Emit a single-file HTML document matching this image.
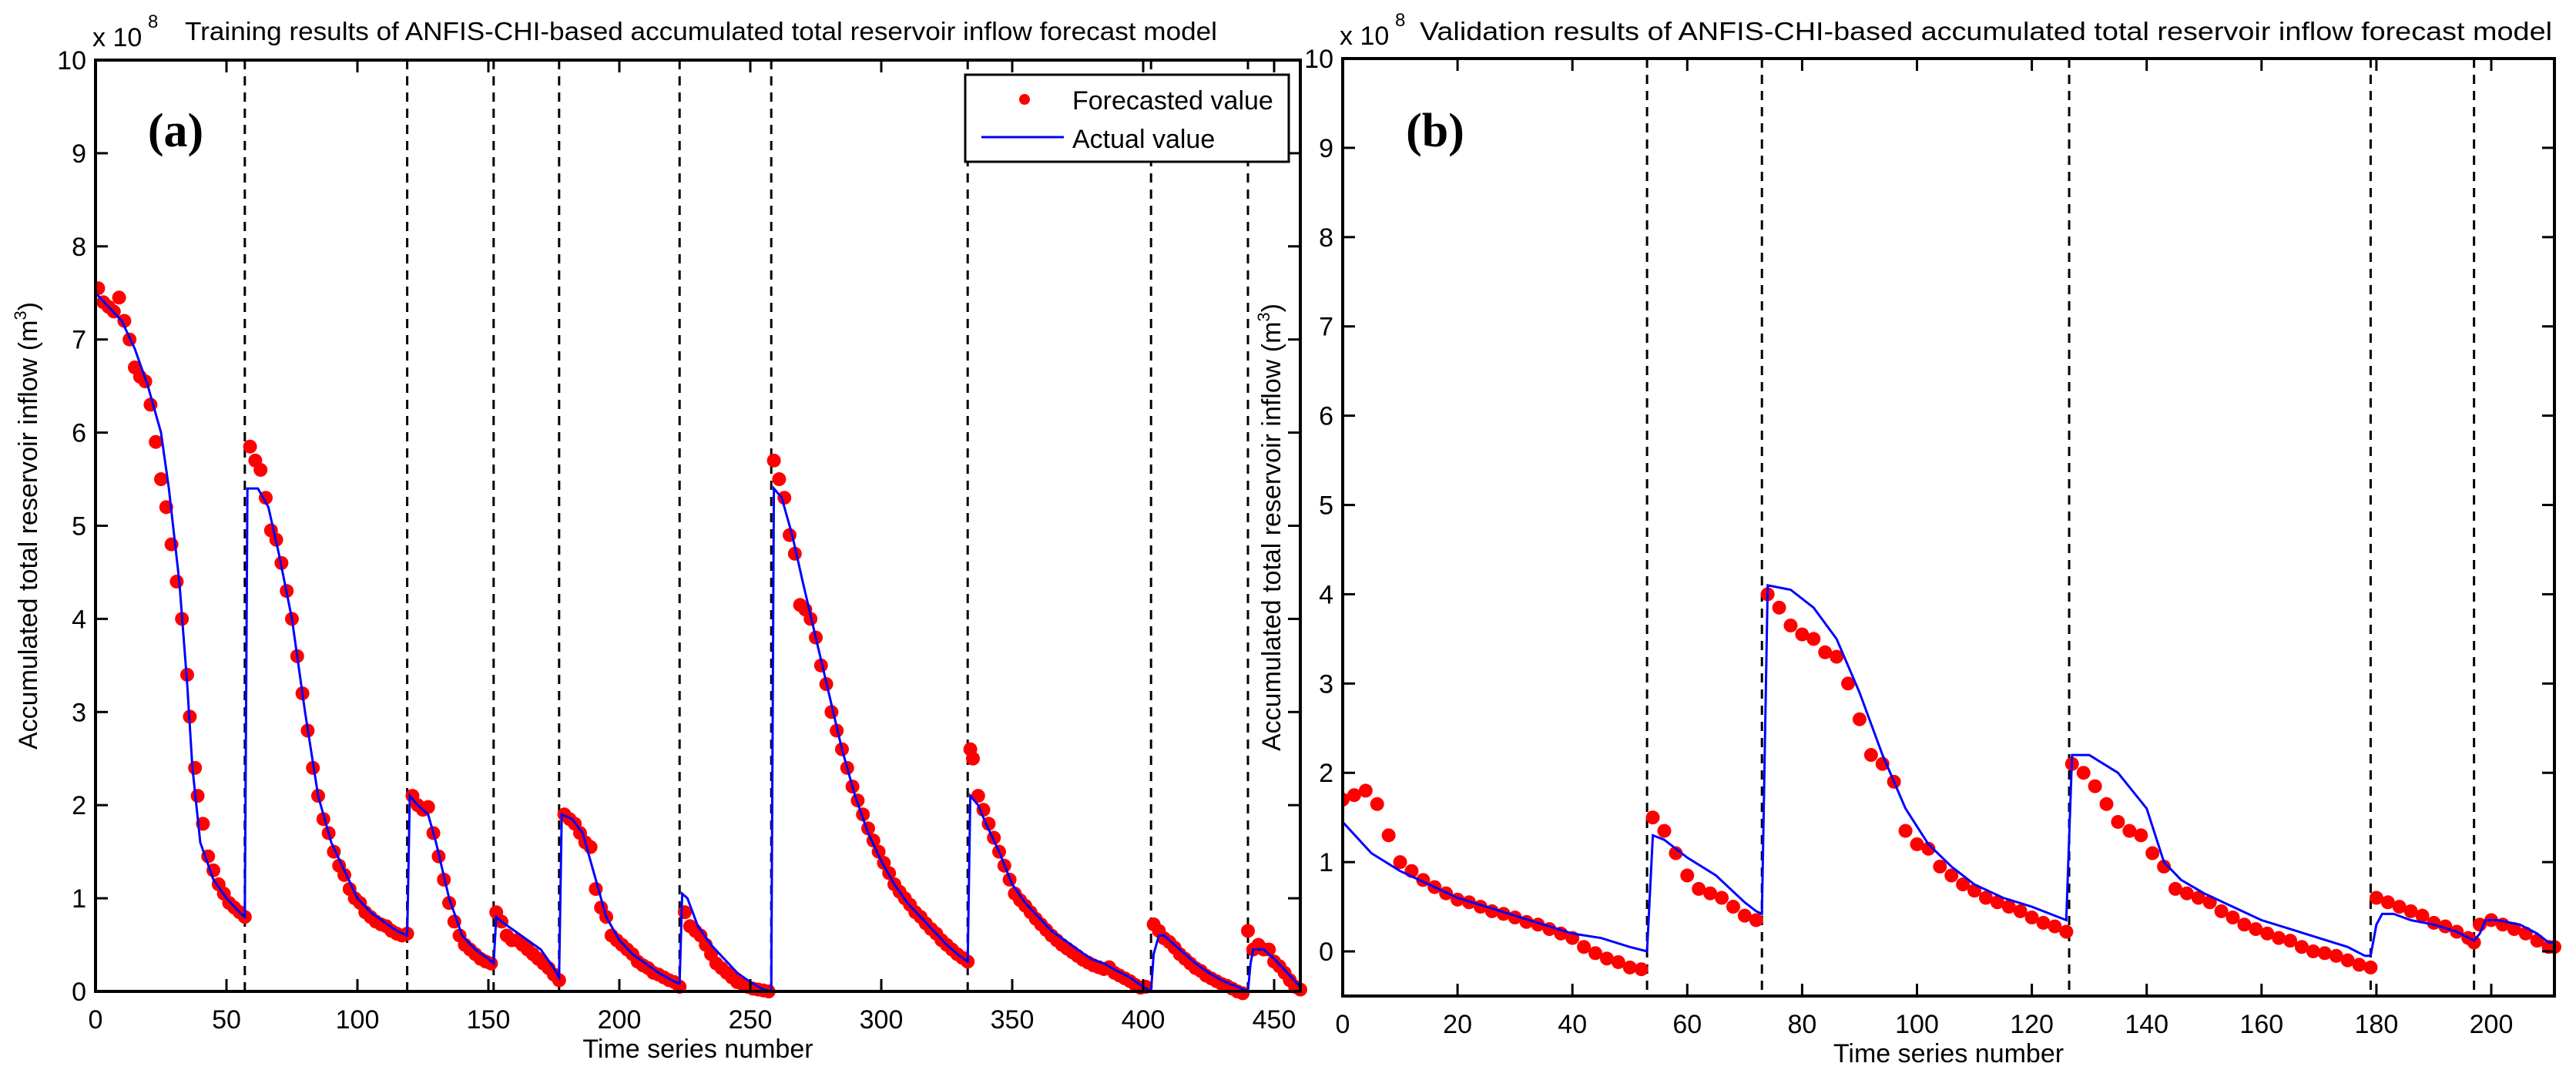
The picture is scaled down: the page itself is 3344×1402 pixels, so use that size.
<!DOCTYPE html>
<html><head><meta charset="utf-8"><style>
html,body{margin:0;padding:0;background:#fff}
svg{display:block;font-family:"Liberation Sans",sans-serif}
</style></head><body>
<svg id="chart" width="3344" height="1402" viewBox="0 0 3344 1402" xmlns="http://www.w3.org/2000/svg"></svg>
<script>
// ---- Panel (a) data ----
const aBreaks = [57,119,152,177,223,258,333,403,440];
const aXTicks = [0,50,100,150,200,250,300,350,400,450];
const aYTicks = [0,1,2,3,4,5,6,7,8,9,10];
const aActualX = [0,5,10,15,20,25,28,32,35,37,40,45,50,55,57, 58,62,66,70,75,80,85,90,95,100,105,110,115,119, 120,123,127,130,135,140,145,150,152, 153,155,160,165,170,175,177, 178,182,186,190,195,200,205,210,215,220,223, 224,226,230,235,240,245,250,255,258, 259,262,266,270,275,280,285,290,295,300,305,310,315,320,325,330,333, 334,337,340,345,350,355,360,365,370,375,380,385,390,395,400,403, 404,406,408,412,416,420,425,430,435,440, 441,442,446,450,455,460];
const aActualY = [7.5,7.35,7.2,6.9,6.5,6.0,5.4,4.4,3.3,2.4,1.6,1.2,1.0,0.85,0.8, 5.4,5.4,5.2,4.7,4.0,3.0,2.1,1.6,1.3,1.0,0.85,0.75,0.65,0.6, 2.1,2.0,1.9,1.6,1.0,0.6,0.45,0.35,0.3, 0.8,0.75,0.65,0.55,0.45,0.25,0.15, 1.9,1.85,1.7,1.3,0.8,0.55,0.4,0.3,0.2,0.12,0.08, 1.05,1.0,0.7,0.5,0.35,0.2,0.1,0.02,0.0, 5.4,5.3,4.9,4.4,3.8,3.2,2.6,2.1,1.7,1.4,1.15,0.95,0.8,0.65,0.5,0.38,0.32, 2.1,2.0,1.8,1.5,1.15,0.95,0.8,0.65,0.55,0.45,0.35,0.3,0.22,0.15,0.05,0.0, 0.4,0.6,0.6,0.5,0.4,0.3,0.2,0.12,0.06,0.0, 0.3,0.45,0.45,0.35,0.2,0.05];
const aForecastX = [1,3,5,7,9,11,13,15,17,19,21,23,25,27,29,31,33,35,36,38,39,41,43,45,47,49,51,53,55,57, 59,61,63,65,67,69,71,73,75,77,79,81,83,85,87,89,91,93,95,97,99,101,103,105,107,109,111,113,115,117,119, 121,123,125,127,129,131,133,135,137,139,141,143,145,147,149,151, 153,155,157,159,161,163,165,167,169,171,173,175,177, 179,181,183,185,187,189,191,193,195,197,199,201,203,205,207,209,211,213,215,217,219,221,223, 225,227,229,231,233,235,237,239,241,243,245,247,249,251,253,255,257, 259,261,263,265,267,269,271,273,275,277,279,281,283,285,287,289,291,293,295,297,299,301,303,305,307,309,311,313,315,317,319,321,323,325,327,329,331,333, 334,335,337,339,341,343,345,347,349,351,353,355,357,359,361,363,365,367,369,371,373,375,377,379,381,383,385,387,389,391,393,395,397,399,401, 404,406,408,410,412,414,416,418,420,422,424,426,428,430,432,434,436,438, 440,442,444,446,448,450,452,454,456,458,460];
const aForecastY = [7.55,7.4,7.35,7.3,7.45,7.2,7.0,6.7,6.6,6.55,6.3,5.9,5.5,5.2,4.8,4.4,4.0,3.4,2.95,2.4,2.1,1.8,1.45,1.3,1.15,1.05,0.95,0.9,0.85,0.8, 5.85,5.7,5.6,5.3,4.95,4.85,4.6,4.3,4.0,3.6,3.2,2.8,2.4,2.1,1.85,1.7,1.5,1.35,1.25,1.1,1.0,0.95,0.85,0.8,0.75,0.72,0.7,0.65,0.62,0.6,0.62, 2.1,2.0,1.95,1.98,1.7,1.45,1.2,0.95,0.75,0.6,0.5,0.45,0.4,0.35,0.32,0.3, 0.85,0.75,0.6,0.55,0.55,0.5,0.45,0.4,0.35,0.3,0.25,0.18,0.12, 1.9,1.85,1.8,1.7,1.6,1.55,1.1,0.9,0.8,0.6,0.55,0.5,0.45,0.4,0.32,0.28,0.25,0.2,0.18,0.15,0.12,0.1,0.05, 0.85,0.7,0.65,0.6,0.5,0.4,0.3,0.25,0.2,0.15,0.1,0.08,0.05,0.03,0.02,0.01,0.0, 5.7,5.5,5.3,4.9,4.7,4.15,4.1,4.0,3.8,3.5,3.3,3.0,2.8,2.6,2.4,2.2,2.05,1.9,1.75,1.62,1.5,1.38,1.27,1.15,1.07,1.0,0.93,0.85,0.8,0.73,0.67,0.62,0.55,0.5,0.45,0.4,0.36,0.32, 2.6,2.5,2.1,1.95,1.8,1.65,1.5,1.35,1.2,1.05,0.98,0.92,0.85,0.78,0.72,0.66,0.6,0.55,0.5,0.46,0.42,0.38,0.34,0.31,0.28,0.26,0.24,0.26,0.2,0.17,0.14,0.11,0.07,0.04,0.05, 0.72,0.65,0.57,0.53,0.47,0.4,0.35,0.3,0.25,0.22,0.17,0.14,0.11,0.08,0.06,0.03,0.0,-0.02, 0.65,0.45,0.5,0.45,0.45,0.32,0.27,0.2,0.12,0.05,0.02];

// ---- Panel (b) data ----
const bBreaks = [53,73,126.5,179,197];
const bXTicks = [0,20,40,60,80,100,120,140,160,180,200];
const bYTicks = [0,1,2,3,4,5,6,7,8,9,10];
const bActualX = [0,5,10,15,20,25,30,35,40,45,50,53, 54,56,60,65,70,72,73, 74,78,82,86,90,94,98,102,106,110,115,120,126, 127,130,135,140,143,146,150,155,160,165,170,175,178,179, 180,181,183,186,190,194,197, 198,199,201,205,208,210,211];
const bActualY = [1.45,1.1,0.9,0.75,0.6,0.5,0.4,0.3,0.2,0.15,0.05,0.0, 1.3,1.25,1.05,0.85,0.55,0.45,0.42, 4.1,4.05,3.85,3.5,2.9,2.2,1.6,1.2,0.95,0.75,0.6,0.5,0.35, 2.2,2.2,2.0,1.6,1.0,0.8,0.65,0.5,0.35,0.25,0.15,0.05,-0.05,-0.05, 0.3,0.42,0.42,0.35,0.3,0.22,0.12, 0.2,0.35,0.35,0.3,0.2,0.1,0.1];
const bForecastX = [0,2,4,6,8,10,12,14,16,18,20,22,24,26,28,30,32,34,36,38,40,42,44,46,48,50,52, 54,56,58,60,62,64,66,68,70,72, 74,76,78,80,82,84,86,88,90,92,94,96,98,100,102,104,106,108,110,112,114,116,118,120,122,124,126, 127,129,131,133,135,137,139,141,143,145,147,149,151,153,155,157,159,161,163,165,167,169,171,173,175,177,179, 180,182,184,186,188,190,192,194,196,197, 198,200,202,204,206,208,210,211];
const bForecastY = [1.7,1.75,1.8,1.65,1.3,1.0,0.9,0.8,0.72,0.65,0.58,0.55,0.5,0.45,0.42,0.38,0.33,0.3,0.25,0.2,0.15,0.05,-0.02,-0.08,-0.12,-0.18,-0.2, 1.5,1.35,1.1,0.85,0.7,0.65,0.6,0.5,0.4,0.35, 4.0,3.85,3.65,3.55,3.5,3.35,3.3,3.0,2.6,2.2,2.1,1.9,1.35,1.2,1.15,0.95,0.85,0.75,0.68,0.6,0.55,0.5,0.45,0.38,0.32,0.28,0.22, 2.1,2.0,1.85,1.65,1.45,1.35,1.3,1.1,0.95,0.7,0.65,0.6,0.55,0.45,0.38,0.3,0.25,0.2,0.15,0.12,0.05,0.0,-0.02,-0.05,-0.1,-0.15,-0.18, 0.6,0.55,0.5,0.45,0.4,0.32,0.28,0.22,0.15,0.1, 0.3,0.35,0.3,0.25,0.2,0.12,0.05,0.05];

const NS = "http://www.w3.org/2000/svg";
const svg = document.getElementById('chart');
function mk(tag, attrs, parent){
  const e = document.createElementNS(NS, tag);
  for (const k in attrs) e.setAttribute(k, attrs[k]);
  (parent||svg).appendChild(e);
  return e;
}

function panel(cfg){
  const g = mk('g', {});
  
  
  const X = v => cfg.x0 + (v - cfg.xmin) / (cfg.xmax - cfg.xmin) * (cfg.x1 - cfg.x0);
  const Y = v => cfg.y1 - (v - cfg.ymin) / (cfg.ymax - cfg.ymin) * (cfg.y1 - cfg.y0);
  const clipId = cfg.id + '-clip';
  const defs = mk('defs', {}, g);
  const cp = mk('clipPath', {id: clipId}, defs);
  mk('rect', {x: cfg.x0, y: cfg.y0 - 10, width: cfg.x1 - cfg.x0 + 12, height: cfg.y1 - cfg.y0 + 22}, cp);

  cfg.breaks.forEach(b => {
    const l = mk('line', {x1: X(b), x2: X(b), y1: cfg.y0, y2: cfg.y1, stroke: '#000', 'stroke-width': 3, 'stroke-dasharray': '12 9'}, g);
    
    
  });

  const fg = mk('g', {'clip-path': 'url(#' + clipId + ')'}, g);
  
  
  cfg.fx.forEach((xv, i) => {
    const c = mk('circle', {cx: X(xv), cy: Y(cfg.fy[i]), r: 9, fill: '#ff0000'}, fg);
    
    
  });

  const pts = cfg.ax.map((xv, i) => X(xv).toFixed(1) + ',' + Y(cfg.ay[i]).toFixed(1)).join(' ');
  const pl = mk('polyline', {points: pts, fill: 'none', stroke: '#0000ff', 'stroke-width': 3, 'clip-path': 'url(#' + clipId + ')'}, g);
  
  

  const fr = mk('rect', {x: cfg.x0, y: cfg.y0, width: cfg.x1 - cfg.x0, height: cfg.y1 - cfg.y0, fill: 'none', stroke: '#000', 'stroke-width': 4}, g);
  
  

  cfg.xticks.forEach(t => {
    const x = X(t);
    mk('line', {x1: x, x2: x, y1: cfg.y1, y2: cfg.y1 - 16, stroke: '#000', 'stroke-width': 3}, g);
    mk('line', {x1: x, x2: x, y1: cfg.y0, y2: cfg.y0 + 16, stroke: '#000', 'stroke-width': 3}, g);
    const tx = mk('text', {x: x, y: cfg.y1 + 48, 'font-size': 34, 'text-anchor': 'middle', fill: '#000'}, g);
    tx.textContent = t;
    
    
  });
  cfg.yticks.forEach(t => {
    const y = Y(t);
    mk('line', {x1: cfg.x0, x2: cfg.x0 + 16, y1: y, y2: y, stroke: '#000', 'stroke-width': 3}, g);
    mk('line', {x1: cfg.x1, x2: cfg.x1 - 16, y1: y, y2: y, stroke: '#000', 'stroke-width': 3}, g);
    const ty = mk('text', {x: cfg.x0 - 12, y: y + 12, 'font-size': 34, 'text-anchor': 'end', fill: '#000'}, g);
    ty.textContent = t;
    
    
  });

  const ex = mk('text', {x: cfg.x0 - 4, y: cfg.y0 - 18, 'font-size': 34, fill: '#000'}, g);
  ex.textContent = 'x 10';
  
  
  const ex2 = mk('text', {x: cfg.x0 + 68, y: cfg.y0 - 42, 'font-size': 24, fill: '#000'}, g);
  ex2.textContent = '8';
  
  

  const ti = mk('text', {x: cfg.titleX, y: 52, 'font-size': 33, fill: '#000', textLength: cfg.titleLen, lengthAdjust: 'spacingAndGlyphs'}, g);
  ti.textContent = cfg.title;
  
  

  const pl2 = mk('text', {x: cfg.labelX, y: 190, 'font-size': 62, 'font-weight': 'bold', 'font-family': 'Liberation Serif, serif', 'text-anchor': 'middle', fill: '#000'}, g);
  pl2.textContent = cfg.label;
  
  

  const xl = mk('text', {x: (cfg.x0 + cfg.x1) / 2, y: cfg.y1 + 86, 'font-size': 34, 'text-anchor': 'middle', fill: '#000'}, g);
  xl.textContent = 'Time series number';
  
  

  const yl = mk('text', {x: 0, y: 0, 'font-size': 34, 'text-anchor': 'middle', fill: '#000', transform: 'translate(' + cfg.ylabX + ',' + ((cfg.y0 + cfg.y1) / 2) + ') rotate(-90)'}, g);
  yl.textContent = 'Accumulated total reservoir inflow (m';
  const sup = mk('tspan', {'font-size': 22, dy: -14}, yl);
  sup.textContent = '3';
  const cl = mk('tspan', {dy: 14}, yl);
  cl.textContent = ')';
  
  
  return {g, X, Y};
}

const pa = panel({id: 'a', x0: 124, x1: 1688, y0: 78, y1: 1287, xmin: 0, xmax: 460, ymin: 0, ymax: 10,
  breaks: aBreaks, xticks: aXTicks, yticks: aYTicks, ax: aActualX, ay: aActualY, fx: aForecastX, fy: aForecastY,
  title: 'Training results of ANFIS-CHI-based accumulated total reservoir inflow forecast model', titleX: 240, titleLen: 1340,
  label: '(a)', labelX: 228, ylabX: 48});

const lg = mk('g', {});


mk('rect', {x: 1253, y: 97, width: 420, height: 113, fill: '#fff', stroke: '#000', 'stroke-width': 3}, lg);
const ld = mk('circle', {cx: 1330, cy: 129, r: 7, fill: '#ff0000'}, lg);


const lt1 = mk('text', {x: 1392, y: 142, 'font-size': 34, fill: '#000'}, lg);
lt1.textContent = 'Forecasted value';


const ll = mk('line', {x1: 1274, x2: 1381, y1: 178, y2: 178, stroke: '#0000ff', 'stroke-width': 3}, lg);


const lt2 = mk('text', {x: 1392, y: 192, 'font-size': 34, fill: '#000'}, lg);
lt2.textContent = 'Actual value';



const pb = panel({id: 'b', x0: 1743, x1: 3316, y0: 76, y1: 1293, xmin: 0, xmax: 211, ymin: -0.5, ymax: 10,
  breaks: bBreaks, xticks: bXTicks, yticks: bYTicks, ax: bActualX, ay: bActualY, fx: bForecastX, fy: bForecastY,
  title: 'Validation results of ANFIS-CHI-based accumulated total reservoir inflow forecast model', titleX: 1843, titleLen: 1470,
  label: '(b)', labelX: 1863, ylabX: 1662});
</script>
</body></html>
